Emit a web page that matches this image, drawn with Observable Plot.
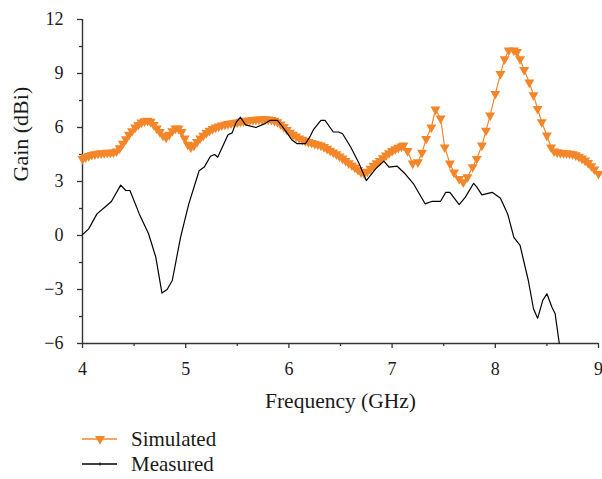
<!DOCTYPE html>
<html>
<head>
<meta charset="utf-8">
<script src="https://cdn.jsdelivr.net/npm/d3@7"></script>
<script src="https://cdn.jsdelivr.net/npm/@observablehq/plot@0.6"></script>
<style>
  html, body { margin: 0; padding: 0; background: #fff; }
  #wrap { position: relative; width: 602px; height: 479px; font-family: "Liberation Serif", "DejaVu Serif", serif; }
  #legend { position: absolute; left: 0; top: 420px; }
</style>
</head>
<body>
<div id="wrap">
  <div id="chart"></div>
  <svg id="legend" width="602" height="59"></svg>
</div>
<script>
// ---- Data ----
const simFreq = [
  4.00, 4.03, 4.06, 4.09, 4.12, 4.15, 4.18, 4.21, 4.24, 4.27,
  4.30, 4.33, 4.36, 4.39, 4.42, 4.45, 4.48, 4.51, 4.54, 4.57,
  4.60, 4.63, 4.66, 4.69, 4.72, 4.75, 4.78, 4.81, 4.84, 4.87,
  4.90, 4.93, 4.96, 4.99, 5.02, 5.05, 5.08, 5.11, 5.14, 5.17,
  5.20, 5.23, 5.26, 5.29, 5.32, 5.35, 5.38, 5.41, 5.44, 5.47,
  5.50, 5.53, 5.56, 5.59, 5.62, 5.65, 5.68, 5.71, 5.74, 5.77,
  5.80, 5.83, 5.86, 5.89, 5.92, 5.95, 5.98, 6.01, 6.04, 6.07,
  6.10, 6.13, 6.16, 6.19, 6.22, 6.25, 6.28, 6.31, 6.34, 6.37,
  6.40, 6.43, 6.46, 6.49, 6.52, 6.55, 6.58, 6.61, 6.64, 6.67,
  6.70, 6.73, 6.76, 6.79, 6.82, 6.85, 6.88, 6.91, 6.94, 6.97,
  7.00, 7.03, 7.06, 7.09,
  7.11, 7.15, 7.20, 7.25, 7.29, 7.33, 7.38, 7.42, 7.47, 7.51,
  7.56, 7.60, 7.65, 7.69, 7.73, 7.78, 7.82, 7.87, 7.91, 7.95,
  8.00, 8.05, 8.09, 8.13, 8.18, 8.21, 8.24, 8.28, 8.33, 8.37,
  8.41, 8.45, 8.50, 8.54, 8.57,
  8.60, 8.63, 8.66, 8.69, 8.72, 8.75, 8.78, 8.81, 8.84, 8.87,
  8.90, 8.93, 8.96, 9.00
];
const simGain = [
  4.25, 4.35, 4.42, 4.48, 4.52, 4.55, 4.57, 4.58, 4.60, 4.60,
  4.62, 4.68, 4.85, 5.10, 5.35, 5.60, 5.80, 6.00, 6.15, 6.28,
  6.35, 6.38, 6.32, 6.15, 5.95, 5.75, 5.55, 5.45, 5.60, 5.80,
  5.95, 5.95, 5.75, 5.40, 5.05, 4.90, 5.00, 5.20, 5.40, 5.55,
  5.70, 5.82, 5.92, 6.00, 6.06, 6.12, 6.16, 6.20, 6.23, 6.26,
  6.29, 6.32, 6.35, 6.38, 6.40, 6.42, 6.44, 6.45, 6.46, 6.46,
  6.45, 6.43, 6.38, 6.30, 6.18, 6.03, 5.87, 5.72, 5.60, 5.50,
  5.40, 5.32, 5.25, 5.20, 5.15, 5.10, 5.05, 5.00, 4.92, 4.82,
  4.72, 4.62, 4.52, 4.40, 4.28, 4.15, 4.02, 3.90, 3.78, 3.65,
  3.52, 3.45, 3.55, 3.72, 3.88, 4.02, 4.15, 4.30, 4.45, 4.58,
  4.70, 4.80, 4.88, 4.95,
  5.00, 4.70, 4.00, 4.07, 4.60, 5.37, 6.00, 7.00, 6.50, 4.90,
  4.00, 3.50, 3.15, 2.96, 3.24, 3.80, 4.26, 5.00, 5.83, 6.67,
  7.87, 8.98, 9.80, 10.28, 10.28, 10.20, 9.80, 9.20, 8.50, 7.80,
  7.04, 6.30, 5.56, 4.90, 4.68,
  4.63, 4.60, 4.58, 4.57, 4.55, 4.52, 4.46, 4.38, 4.28, 4.17,
  4.03, 3.86, 3.68, 3.43
];

const measFreq = [
  4.00, 4.06, 4.14, 4.21, 4.28, 4.37, 4.42, 4.46, 4.55, 4.64,
  4.71, 4.77, 4.82, 4.87, 4.95, 5.03, 5.13, 5.18, 5.24, 5.28,
  5.31, 5.37, 5.41, 5.45, 5.49, 5.53, 5.58, 5.68, 5.76, 5.82,
  5.89, 5.97, 6.03, 6.08, 6.16, 6.21, 6.24, 6.31, 6.35, 6.43,
  6.48, 6.52, 6.60, 6.68, 6.75, 6.84, 6.92, 6.97, 7.05, 7.13,
  7.21, 7.32, 7.39, 7.47, 7.52, 7.56, 7.65, 7.71, 7.79, 7.82,
  7.87, 7.97, 8.05, 8.12, 8.18, 8.24, 8.32, 8.37, 8.41, 8.46,
  8.50, 8.55, 8.58, 8.62
];
const measGain = [
  0.05, 0.37, 1.20, 1.54, 1.89, 2.80, 2.50, 2.50, 1.20, 0.10,
  -1.20, -3.20, -3.00, -2.50, -0.10, 1.76, 3.60, 3.80, 4.40, 4.50,
  4.35, 5.10, 5.60, 5.70, 6.30, 6.57, 6.15, 6.00, 6.20, 6.40,
  6.40, 5.80, 5.30, 5.10, 5.10, 5.55, 5.90, 6.40, 6.40, 5.75,
  5.75, 5.65, 4.90, 4.00, 3.05, 3.70, 4.13, 3.80, 3.85, 3.40,
  2.85, 1.76, 1.90, 1.90, 2.40, 2.40, 1.72, 2.13, 2.90, 2.70,
  2.26, 2.40, 2.07, 1.20, -0.10, -0.55, -2.50, -4.07, -4.60, -3.60,
  -3.24, -4.00, -4.35, -6.00
];

const freqTicks = [4, 5, 6, 7, 8, 9];
const freqMinor = [4.5, 5.5, 6.5, 7.5, 8.5];
const gainTicks = [-6, -3, 0, 3, 6, 9, 12];
const gainMinor = [-4.5, -1.5, 1.5, 4.5, 7.5, 10.5];
const xTitle = "Frequency (GHz)";
const yTitle = "Gain (dBi)";
const seriesNames = ["Simulated", "Measured"];
const seriesColors = ["#f4862a", "#000000"];

const simulated = simFreq.map((f, i) => ({f, g: simGain[i]}));
const measured = measFreq.map((f, i) => ({f, g: measGain[i]}));

const axisColor = "#333333";
const textColor = "#1a1a1a";
const font = "Liberation Serif";

const chart = Plot.plot({
  width: 602,
  height: 420,
  marginLeft: 82,
  marginRight: 4,
  marginTop: 19,
  marginBottom: 77,
  x: {domain: [4, 9]},
  y: {domain: [-6, 12]},
  style: {fontFamily: font, fontSize: "18px", color: textColor, background: "white", overflow: "visible"},
  marks: [
    Plot.axisX(freqTicks, {tickSize: 5, tickPadding: 14, stroke: axisColor, strokeWidth: 1.3, fontSize: 18, label: null}),
    Plot.axisX(freqMinor, {tickSize: 3, stroke: axisColor, strokeWidth: 1.3, tickFormat: () => "", label: null}),
    Plot.axisY(gainTicks, {tickSize: 5, tickPadding: 14, stroke: axisColor, strokeWidth: 1.3, fontSize: 18, label: null}),
    Plot.axisY(gainMinor, {tickSize: 3, stroke: axisColor, strokeWidth: 1.3, tickFormat: () => "", label: null}),
    Plot.text([xTitle], {frameAnchor: "bottom", dy: 58, fontSize: 21.5, fill: textColor, lineAnchor: "middle"}),
    Plot.text([yTitle], {frameAnchor: "left", dx: -62, rotate: -90, fontSize: 22, fill: textColor, lineAnchor: "middle"}),
    Plot.ruleY([-6], {stroke: axisColor, strokeWidth: 1.4}),
    Plot.ruleX([4], {stroke: axisColor, strokeWidth: 1.4}),
    Plot.line(simulated, {x: "f", y: "g", stroke: seriesColors[0], strokeWidth: 1.2}),
    Plot.dot(simulated, {x: "f", y: "g", symbol: "triangle", rotate: 180, r: 3.7, fill: seriesColors[0], stroke: "none"}),
    Plot.line(measured, {x: "f", y: "g", stroke: seriesColors[1], strokeWidth: 1.2})
  ]
});
document.getElementById("chart").appendChild(chart);

// ---- Legend ----
const leg = d3.select("#legend");
const rows = [
  {name: seriesNames[0], color: seriesColors[0], y: 19, marker: "tri"},
  {name: seriesNames[1], color: seriesColors[1], y: 44, marker: "tick"}
];
rows.forEach(r => {
  leg.append("line").attr("x1", 82).attr("x2", 117).attr("y1", r.y).attr("y2", r.y)
    .attr("stroke", r.color).attr("stroke-width", 1.3);
  if (r.marker === "tri") {
    leg.append("path").attr("d", d3.symbol(d3.symbolTriangle, 43)())
      .attr("transform", `translate(100,${r.y}) rotate(180)`).attr("fill", r.color);
  } else {
    leg.append("line").attr("x1", 100).attr("x2", 100).attr("y1", r.y - 1.5).attr("y2", r.y + 1.5)
      .attr("stroke", r.color).attr("stroke-width", 1);
  }
  leg.append("text").attr("x", 131).attr("y", r.y + 7).attr("font-family", font)
    .attr("font-size", 21).attr("fill", textColor).text(r.name);
});
</script>
</body>
</html>
